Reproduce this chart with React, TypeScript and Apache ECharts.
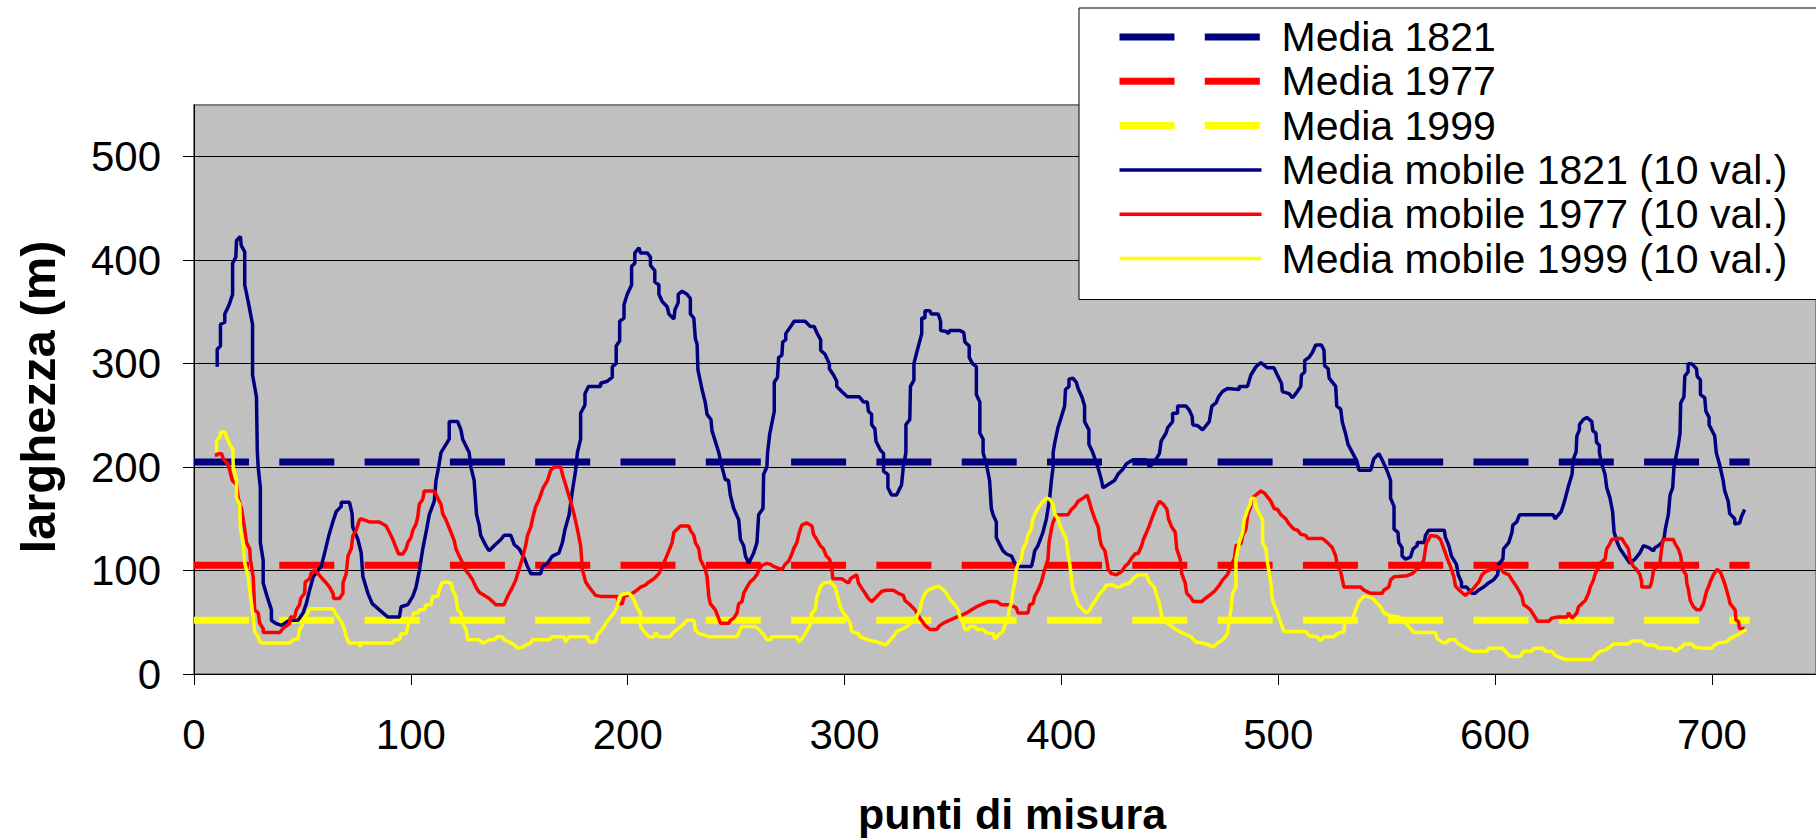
import React, { useEffect, useRef } from "react";
import * as echarts from "echarts";

const FONT = "'Liberation Sans', Arial, sans-serif";

const xTickValues = [0, 100, 200, 300, 400, 500, 600, 700];
const yTickValues = [0, 100, 200, 300, 400, 500];

const meanNames = ["Media 1821", "Media 1977", "Media 1999"];
const meanValues = [205, 105, 52];
const meanExtent = [0, 717.4];

const mobileNames = [
  "Media mobile 1821 (10 val.)",
  "Media mobile 1977 (10 val.)",
  "Media mobile 1999 (10 val.)",
];
const seriesColors = ["#000080", "#FF0000", "#FFFF00"];

const mobile1821: number[][] = [
  [10.7,297],[10.7,314],[12.2,317],[12.2,338],[14.2,340],[14.2,348],[16.2,357],[17.8,367],[17.8,397],[19.3,403],[19.6,419],[21.4,423],[21.8,414],[23.4,408],[23.4,376],[25,360],[27,338],[27,289],[28.8,268],[29.2,215],[29.6,200],[30.6,180],[30.6,127],[31.9,110],[31.9,88],[33.7,75],[35.7,62],[35.7,52],[37.7,49],[40.3,47],[44,52],[48,52],[50.3,59],[51.8,68],[53.3,81],[55,94],[58.7,104],[60.7,121],[62.2,134],[64,147],[65.6,157],[67.9,162],[67.9,166],[71.7,166],[72.9,155],[73.2,142],[75.6,130],[77.1,117],[77.9,94],[80.2,78],[82.2,68],[85.5,62],[89.4,55],[94.7,55],[95.5,65],[98.6,67],[100.9,75],[102.4,84],[104,101],[105.5,121],[107.3,140],[108.5,154],[110.8,167],[111.6,187],[112.8,200],[113.9,214],[117.7,227],[117.7,244],[121.6,244],[123.1,236],[123.9,227],[126.9,214],[127.7,200],[129.2,187],[130.3,154],[131.5,144],[132.2,134],[134.6,124],[136.1,119],[138.4,124],[141.5,130],[143,134],[146.1,134],[147.7,125],[150,121],[152.3,112],[153.8,104],[155.3,97],[159.9,97],[160.7,104],[163,107],[165.3,114],[168.3,117],[169.9,127],[171.1,140],[173,154],[174.5,177],[176,197],[176.8,214],[178.3,227],[178.3,252],[180.3,260],[180.3,271],[181.9,278],[187.5,278],[187.5,281],[190.6,283],[192.9,287],[192.9,297],[194.7,300],[194.7,317],[196.3,322],[196.3,341],[198.3,344],[198.3,357],[199.8,367],[201.8,376],[201.8,394],[203.3,397],[203.3,407],[205.2,412],[205.9,407],[209,407],[210.5,403],[210.5,395],[212.5,390],[212.5,379],[214.4,376],[214.4,367],[215.9,360],[218.2,355],[219,348],[221.3,343],[221.8,352],[223.3,359],[223.3,367],[225.1,370],[227.4,367],[228.9,363],[228.9,348],[230.5,344],[231.2,324],[232,319],[232.4,294],[234.3,275],[235.8,262],[236.6,251],[238.4,246],[238.9,235],[242,214],[243.5,200],[245,188],[246.5,187],[247.3,173],[248.9,160],[251.2,149],[252,130],[253.5,124],[254.3,114],[255.8,107],[258.1,117],[259.6,127],[260.4,154],[262.4,160],[262.7,193],[264.2,200],[264.5,214],[265.5,232],[267.6,254],[267.6,282],[269.1,287],[269.6,306],[271.1,308],[271.5,321],[272.9,323],[272.9,329],[276.5,340],[276.5,341],[281.8,341],[284.2,336],[286,336],[287.2,330],[289,323],[289,313],[291,309],[293,300],[293,295],[294.9,289],[296.4,283],[296.4,278],[298.7,273],[301.3,268],[306.8,268],[308.7,263],[310.5,263],[311,254],[312.5,251],[312.5,241],[314,237],[314.5,225],[316.4,217],[318,213],[318,196],[320,193],[320,180],[321.7,173],[324,173],[326.3,183],[327.1,200],[328.3,214],[328.3,241],[330.1,246],[330.4,278],[332,284],[332,300],[333.2,310],[335.6,329],[335.6,344],[337.1,344],[337.1,351],[339.4,351],[340,348],[343.2,348],[344.3,341],[344.3,332],[346.9,331],[348,329],[348.4,332],[353.2,332],[355,330],[355.5,321],[357.5,317],[357.5,306],[359,300],[360.8,297],[360.8,270],[362.4,263],[362.4,233],[363.9,227],[363.9,214],[365.4,203],[366.9,187],[367.7,160],[368.5,154],[370,147],[370,132],[371.6,125],[373.1,119],[374.7,116],[377,114],[378.5,107],[380,104],[386.2,104],[387,111],[387.7,119],[389.2,124],[391.5,137],[393.1,150],[394.6,170],[395.4,187],[396.2,200],[396.2,214],[397,224],[398.4,238],[399.9,248],[401.5,259],[401.9,275],[403.5,278],[403.5,285],[405.3,286],[406.9,282],[407.7,276],[409.6,267],[410.7,259],[410.7,244],[412.7,236],[412.7,222],[414.5,214],[416.8,200],[418.4,188],[419.2,180],[421.4,183],[424.5,187],[426.1,193],[428.4,198],[429.9,203],[433,207],[439.1,207],[440.6,200],[442.9,205],[445.2,213],[446,225],[448.3,233],[449,238],[451.3,244],[451.3,252],[453.6,252],[453.6,259],[457.5,259],[459,255],[460.3,249],[460.6,241],[462.8,240],[465.1,236],[466.7,240],[468.2,244],[469.4,259],[471.3,262],[472.5,268],[474.3,273],[476.6,276],[482,275],[482,278],[485.8,278],[487.4,289],[489.7,297],[492,301],[495,296],[498,296],[499.6,289],[501.5,281],[501.9,273],[505,271],[506.6,267],[508.8,273],[510.4,278],[510.7,289],[512.2,292],[512.2,303],[514.2,306],[515.8,311],[517.3,318],[519.9,318],[521.1,313],[521.4,298],[523,295],[523.5,286],[526.5,278],[527,259],[528.8,256],[529.6,243],[531.1,232],[532.2,222],[534.2,214],[536.4,205],[537.2,197],[542.6,197],[544.1,208],[546.4,213],[547.9,207],[550.3,196],[551.8,187],[551.8,170],[553.4,162],[553.4,140],[555.2,137],[555.6,127],[557.1,122],[557.1,114],[558.7,111],[561,113],[562.2,121],[564.1,124],[564.1,127],[567.4,127],[567.9,134],[569.4,139],[576.6,139],[577.1,132],[578.7,124],[579.9,114],[582.2,106],[583,96],[584.5,89],[584.5,84],[586.9,84],[589.3,78],[590.8,78],[592.3,81],[594.7,84],[597,88],[599.3,91],[601.2,96],[601.6,106],[603.6,111],[603.9,121],[606.3,127],[607.8,137],[608.2,144],[610,147],[611.3,154],[626.8,154],[627.6,150],[630.5,157],[631.6,164],[632.4,170],[633.9,182],[635.5,193],[636,207],[637.4,215],[637.7,230],[638.9,236],[638.9,241],[640.7,246],[642.3,248],[644.6,244],[645.1,235],[646.5,233],[646.8,224],[648.1,221],[648.1,214],[649.2,203],[650.7,193],[651.5,180],[653,170],[654.2,157],[654.9,137],[656.4,127],[657.6,121],[659.9,114],[662.2,107],[664.5,111],[666.8,117],[668.4,124],[671.1,122],[673,119],[673.7,122],[675.3,124],[676.9,127],[678,132],[678.5,140],[679.9,154],[680.7,173],[681.9,180],[682.5,200],[683.7,213],[684.4,220],[685.3,233],[685.6,262],[687.1,268],[687.5,288],[689,292],[689,300],[690.6,300],[692.9,295],[693.2,288],[694.7,284],[694.7,270],[696.7,267],[697.2,254],[698.7,248],[698.7,241],[701.3,230],[702,214],[703.6,202],[705.2,187],[705.9,177],[707.5,167],[708.2,155],[710.5,150],[710.5,145],[712.8,146],[713.6,152],[715.1,159]
];

const mobile1977: number[][] = [
  [10.4,210],[10.4,213],[12.7,213],[13.5,208],[15.7,203],[17.7,187],[19.6,183],[20.4,170],[21.9,160],[23.4,140],[24.2,127],[25.7,121],[26,111],[27.3,94],[28,62],[29.6,59],[30.3,49],[31.9,44],[31.9,40],[39.5,40],[41.1,44],[44.1,49],[44.5,55],[46.4,55],[47.2,62],[48.7,67],[49.2,73],[51,78],[51.3,89],[53.3,92],[54.1,98],[55.6,100],[57.2,97],[59.2,92],[61,88],[62.5,84],[64.1,78],[64.4,73],[67.1,73],[68.7,78],[68.7,88],[70.2,97],[71,114],[72.5,121],[73.3,134],[74.8,139],[76.3,149],[77.1,150],[80.9,147],[85.5,147],[88.6,143],[90.1,137],[91.7,130],[93.2,122],[94.4,116],[96.3,116],[97.8,121],[98.6,127],[100.1,132],[100.9,139],[102.4,145],[103.2,152],[103.9,164],[105.5,169],[106.2,177],[110.8,177],[112.4,170],[113.9,164],[114.7,155],[116.2,149],[118.5,137],[120,129],[120.8,121],[122.3,114],[123.9,107],[125.4,100],[126.9,96],[128.5,91],[130,84],[131.5,79],[133.9,76],[136.1,73],[137.7,70],[139.2,67],[143,67],[144.6,75],[146.9,84],[148.4,91],[150,102],[151.5,112],[153,125],[153.8,134],[155.3,142],[156.1,150],[157.6,162],[159.2,169],[161,180],[163,187],[164.5,197],[166.1,200],[169.1,200],[169.9,193],[171.4,183],[172.2,177],[173.7,167],[175.3,154],[176.8,140],[178.3,124],[179.1,101],[180.6,89],[182.2,84],[183.7,80],[185.2,76],[187.5,75],[195.2,75],[195.9,68],[197.5,68],[198.3,75],[202.1,78],[203.6,80],[205.9,84],[208.2,86],[209.8,89],[212.1,92],[214.4,97],[215.9,104],[217.4,111],[219,119],[220.5,127],[221.3,137],[222.8,140],[224.3,143],[228.2,143],[228.9,139],[230.5,134],[231.2,127],[232.8,121],[233.5,111],[235.8,101],[236.6,94],[237.4,75],[238.1,68],[240.4,62],[241.9,54],[242.8,49],[246.6,49],[247.4,52],[248.9,54],[250.4,59],[251.2,68],[252.7,70],[253.5,78],[255,84],[256.5,89],[258.1,92],[259.6,96],[260.4,100],[261.9,105],[264.2,107],[265.8,106],[267.3,104],[269.6,102],[271.1,101],[272.6,106],[274.2,109],[275.7,116],[276.5,121],[278,127],[279.2,137],[280.3,144],[282.6,146],[285,143],[285.7,135],[287.2,130],[288.8,124],[290.3,121],[291.6,114],[293.1,111],[294.2,101],[294.6,92],[298.7,92],[299.5,91],[301,89],[301.9,88],[302.7,92],[305.6,96],[306.4,88],[307.9,83],[309.5,78],[311,73],[312.6,70],[314.9,75],[317.2,80],[319.5,81],[322.5,81],[324.8,78],[327.1,76],[327.9,71],[330.2,67],[332.5,62],[334.8,54],[337.1,47],[339.4,43],[342.4,43],[344,47],[346.3,50],[348.6,52],[351.7,55],[354,57],[356.3,59],[358.6,62],[360.9,65],[364,68],[366.2,70],[370.1,70],[372.4,67],[376.2,67],[379.2,64],[380,59],[384.6,59],[385.4,67],[386.9,68],[387.7,75],[389.2,81],[390.8,89],[392.3,101],[393.8,111],[394.3,127],[395.4,140],[396.2,147],[397.8,154],[403.1,154],[404.6,159],[406.2,162],[407.7,167],[410,170],[411.9,173],[413.1,165],[413.9,159],[415.4,150],[417,142],[417.8,130],[418.5,124],[420.1,119],[420.8,111],[421.6,101],[423.1,97],[425.4,96],[427.8,99],[429.3,104],[430.9,107],[432.4,112],[434,116],[435.5,117],[437,124],[437.8,130],[439.3,137],[440.6,144],[442.4,154],[443.9,162],[445.3,167],[447,164],[448.7,159],[449.4,150],[450.9,142],[452.5,137],[453.2,121],[454.8,111],[455.5,97],[457.1,88],[457.8,78],[459.3,75],[460.9,70],[464.7,70],[466.3,73],[468.3,76],[470.6,80],[472.9,86],[474.4,91],[476.6,96],[478.2,104],[479.8,112],[480.5,124],[482.8,126],[483.6,134],[485.1,140],[485.9,154],[487.4,162],[487.4,169],[489.7,173],[492,177],[493.6,175],[495.1,171],[496.6,167],[498.1,160],[499.7,159],[501.2,154],[503.5,150],[505,145],[507.3,140],[508.9,139],[510.4,135],[512.7,134],[513.5,131],[520.4,131],[522.7,127],[525,122],[526.5,114],[527.3,104],[528.8,99],[529.6,91],[530.3,84],[538,84],[539.5,81],[542.6,78],[547.9,78],[548.7,81],[551,84],[551.8,91],[553.4,94],[559.5,95],[561.8,97],[563.8,101],[565.6,104],[567.2,111],[567.9,121],[568.4,127],[569.4,130],[570.2,134],[573.3,133],[574.8,130],[576.4,121],[577.9,112],[579.4,104],[581,94],[581.7,85],[584,80],[586.3,76],[588.6,80],[590.2,83],[592.5,89],[594,96],[595.6,99],[597.9,101],[600.2,102],[601.7,104],[604,98],[606.3,96],[607.8,91],[609.4,86],[610.9,81],[612.4,75],[613.2,67],[614.7,65],[616.3,62],[617.8,57],[619.3,52],[619.3,51],[624.7,51],[626.2,54],[628.5,55],[633.1,55],[633.9,59],[635.5,54],[637.7,59],[638.5,65],[640,68],[641.6,71],[643.1,78],[643.9,84],[645.4,91],[646.2,97],[647.6,102],[648.4,107],[650.7,111],[651.5,121],[653,126],[653.8,130],[656.1,131],[658.4,131],[659.9,126],[661.5,121],[662.2,111],[663.8,104],[665.3,101],[666.8,96],[667.6,89],[667.6,84],[671.4,84],[672.2,89],[673,99],[673.7,102],[676,107],[676.8,121],[677.6,130],[682.2,130],[683,126],[684.5,121],[685.6,114],[686.5,101],[688.1,96],[688.4,88],[689.2,81],[690,71],[691.5,65],[693,62],[694.6,62],[696.1,68],[696.9,75],[697.7,81],[698.4,84],[699.2,89],[700.7,96],[702.3,101],[703.8,99],[705.3,91],[706.1,86],[707.6,75],[708.4,68],[710.7,62],[711.1,52],[712.2,51],[712.7,44],[715.1,44]
];

const mobile1999: number[][] = [
  [10.4,214],[10.4,225],[12.2,230],[12.2,234],[14.2,234],[15,229],[16.5,222],[17.9,217],[18.1,200],[19.6,188],[19.6,170],[21.1,164],[21.4,140],[22.7,127],[23.4,107],[25,94],[25.7,81],[26.5,68],[27.3,55],[28,41],[29.6,36],[30.3,31],[31.9,30],[44.1,30],[45.7,33],[47.9,34],[48.7,43],[49.9,47],[51,55],[52.5,59],[53.3,63],[64.1,63],[65.6,57],[67.9,51],[69.4,43],[70.2,36],[71.4,30],[76.3,30],[76.6,26],[77,30],[91.7,30],[92.4,33],[94.7,33],[95.5,39],[97.8,39],[98.6,46],[99.3,51],[100.9,54],[101.2,59],[103.2,59],[104,62],[106.2,62],[107,67],[109.3,67],[110.1,75],[112.4,75],[113.1,81],[114.4,88],[116.2,89],[118.5,88],[119.3,81],[120.8,75],[121.6,62],[123.1,59],[123.9,49],[125.4,43],[126.2,33],[131.5,33],[133.1,30],[134.6,31],[136.1,33],[138.4,33],[139.9,36],[142.3,36],[143,33],[145.4,31],[147.7,28],[149.2,25],[151.5,26],[153,28],[155.3,30],[156.1,33],[163.8,33],[165.3,36],[170.6,36],[171.4,31],[173,36],[181.4,36],[182.2,31],[185.2,31],[186,38],[187.5,41],[189.1,46],[190.6,51],[192.1,55],[193.7,59],[195.2,65],[195.9,73],[197.5,77],[200.6,78],[202.1,75],[203.6,68],[204.4,64],[205.9,59],[205.9,46],[207.5,41],[209.8,36],[212.1,36],[212.8,40],[214.4,36],[219.7,36],[220.5,39],[222.8,43],[225.1,47],[227.4,52],[230.5,52],[231.2,43],[232.8,39],[235.1,38],[237.4,36],[250.4,36],[251.9,43],[252.7,46],[258.9,46],[260.4,43],[262.7,38],[264.2,33],[265.8,33],[266.5,36],[278,36],[278.8,31],[280.3,34],[281.9,39],[283.9,46],[284.9,59],[286.5,62],[287.2,75],[288,78],[288.8,84],[290.3,88],[293.4,89],[295.7,84],[296.4,78],[298,65],[299.5,59],[301,55],[302.6,49],[303.4,41],[306.4,39],[307.2,36],[311,33],[314.9,31],[316.4,30],[319.1,28],[320.2,31],[322.5,36],[324,41],[327.1,44],[329.4,47],[331.7,52],[333.2,55],[334.8,62],[335.6,70],[337.1,78],[339.4,82],[343.2,85],[344.7,83],[347,78],[348.6,72],[350.9,67],[352.4,62],[353.2,55],[354.7,49],[355.5,43],[357,43],[357.8,46],[360.1,46],[360.9,43],[363.9,43],[365.4,40],[368.5,39],[369.3,34],[371.6,39],[373.1,41],[373.9,47],[375.4,54],[375.9,62],[376.9,68],[377.7,81],[378.5,88],[379.2,101],[380,106],[381.5,111],[382.3,121],[383.8,127],[384.6,134],[386.1,140],[386.9,150],[388.4,157],[389.2,160],[390.8,165],[393.1,170],[394.6,169],[396.2,164],[396.9,155],[398.4,150],[399.2,144],[400.7,137],[402.3,130],[403,117],[403.8,107],[404.6,94],[405.3,81],[406.6,75],[407.7,67],[410,62],[411.5,59],[413.1,62],[414.3,67],[416.1,72],[417.7,78],[419.2,81],[420.8,86],[423.8,86],[425.4,84],[426.9,84],[428.4,86],[431.5,88],[433,92],[435.4,96],[439.1,96],[440.6,89],[442.9,84],[443.7,78],[445.2,68],[446,59],[446.7,52],[449,49],[452.1,44],[454.4,41],[457.5,38],[459.8,36],[462.1,31],[465.1,30],[468.2,28],[469.8,26],[472,30],[474.4,33],[476.6,39],[478.2,62],[478.9,78],[480.5,84],[480.5,111],[482,127],[483.6,137],[484.3,149],[485.9,159],[487.1,164],[487.4,170],[489,170],[489.7,162],[491.3,155],[492.8,149],[492.8,127],[494.3,121],[495.1,107],[495.9,97],[496.6,88],[497.4,71],[498.1,67],[499.7,59],[501.2,49],[502.7,41],[512.7,41],[514.2,37],[518,36],[519.6,32],[521.1,36],[525.7,36],[527.3,39],[530.3,41],[530.6,49],[534.2,52],[535.7,62],[537.2,70],[539.5,75],[541.8,75],[544.1,72],[545.7,68],[547.2,65],[548.7,59],[551.8,56],[555.6,55],[557.9,51],[561,44],[562.5,40],[572.5,40],[573.3,34],[575.6,31],[577.1,30],[578.7,33],[581.7,33],[582.5,30],[585.6,26],[589.3,22],[596.3,22],[597,25],[603.2,25],[604.7,22],[607,17],[611.6,17],[613.1,22],[617,22],[617.8,25],[622.3,25],[623.1,22],[626.2,22],[627.7,18],[632.4,14],[644.6,14],[646.2,18],[648.4,22],[650.7,23],[653,26],[654.5,29],[661.5,29],[663,32],[667.6,32],[669.9,28],[673.7,28],[675.3,25],[681.4,25],[682.9,22],[686,26],[687.5,29],[690.6,29],[692.1,26],[695.2,25],[699.8,25],[701.3,28],[702.9,30],[706.7,31],[708.2,34],[712,38],[714.4,41],[715.9,43]
];

const mobileData = [mobile1821, mobile1977, mobile1999];

const MEAN_WIDTH = 7;
const MOBILE_WIDTH = 3.5;
const DASH = [55, 30.3];

export default function App() {
  const ref = useRef<HTMLDivElement>(null);

  useEffect(() => {
    if (!ref.current) return;
    const chart = echarts.init(ref.current, null, { renderer: "svg" });

    const meanSeries = meanNames.map((name, i) => ({
      name,
      type: "line",
      data: meanExtent.map((x) => [x, meanValues[i]]),
      symbol: "none",
      silent: true,
      z: 2,
      lineStyle: { color: seriesColors[i], width: MEAN_WIDTH, type: DASH, cap: "butt" },
      itemStyle: { color: seriesColors[i] },
    }));

    const mobileSeries = mobileNames.map((name, i) => ({
      name,
      type: "line",
      data: mobileData[i],
      symbol: "none",
      silent: true,
      z: 3 + i,
      lineStyle: { color: seriesColors[i], width: MOBILE_WIDTH },
      itemStyle: { color: seriesColors[i] },
    }));

    const legendData = [
      ...meanNames.map((name, i) => ({
        name,
        lineStyle: { width: MEAN_WIDTH, color: seriesColors[i], type: DASH, cap: "butt" },
      })),
      ...mobileNames.map((name, i) => ({
        name,
        lineStyle: { width: MOBILE_WIDTH, color: seriesColors[i], type: "solid" },
      })),
    ];

    const option: any = {
      animation: false,
      backgroundColor: "#ffffff",
      textStyle: { fontFamily: FONT },
      grid: {
        left: 194,
        top: 105,
        right: -3,
        bottom: 165,
        show: true,
        backgroundColor: "#C0C0C0",
        borderColor: "#808080",
        borderWidth: 2,
      },
      xAxis: {
        type: "value",
        min: 0,
        max: 748,
        interval: 100,
        axisLine: { show: true, onZero: false, lineStyle: { color: "#000", width: 1 } },
        axisTick: { show: true, length: 11, customValues: xTickValues, lineStyle: { color: "#000", width: 1 } },
        axisLabel: {
          customValues: xTickValues,
          fontSize: 42,
          fontFamily: FONT,
          color: "#000",
          margin: 39,
        },
        splitLine: { show: false },
      },
      yAxis: {
        type: "value",
        min: 0,
        max: 550,
        interval: 100,
        axisLine: { show: true, lineStyle: { color: "#000", width: 1 } },
        axisTick: { show: true, length: 11, customValues: yTickValues, lineStyle: { color: "#000", width: 1 } },
        axisLabel: {
          customValues: yTickValues,
          fontSize: 42,
          fontFamily: FONT,
          color: "#000",
          margin: 33,
        },
        splitLine: {
          show: true,
          lineStyle: {
            color: ["#000", "#000", "#000", "#000", "#000", "#000", "#808080"],
            width: 1,
          },
        },
      },
      legend: {
        orient: "vertical",
        left: 1079,
        top: 8,
        padding: [7, 60, 19, 37],
        backgroundColor: "#ffffff",
        borderColor: "#000000",
        borderWidth: 1,
        itemWidth: 142,
        itemHeight: 20,
        itemGap: 0.3,
        selectedMode: false,
        itemStyle: { opacity: 0 },
        textStyle: {
          fontSize: 41,
          fontFamily: FONT,
          color: "#000",
          lineHeight: 44,
          padding: [0, 0, 0, 15],
        },
        data: legendData,
      },
      graphic: [
        {
          type: "text",
          x: 38,
          y: 397,
          rotation: Math.PI / 2,
          z: 100,
          style: {
            text: "larghezza (m)",
            fill: "#000",
            font: `bold 49px ${FONT}`,
            align: "center",
            verticalAlign: "middle",
            textAlign: "center",
            textVerticalAlign: "middle",
          },
        },
        {
          type: "text",
          x: 1012,
          y: 814,
          z: 100,
          style: {
            text: "punti di misura",
            fill: "#000",
            font: `bold 43px ${FONT}`,
            align: "center",
            verticalAlign: "middle",
            textAlign: "center",
            textVerticalAlign: "middle",
          },
        },
      ],
      series: [...meanSeries, ...mobileSeries],
    };

    chart.setOption(option);
    return () => chart.dispose();
  }, []);

  return (
    <div
      ref={ref}
      style={{ position: "absolute", left: 0, top: 0, width: 1816, height: 839 }}
    />
  );
}
